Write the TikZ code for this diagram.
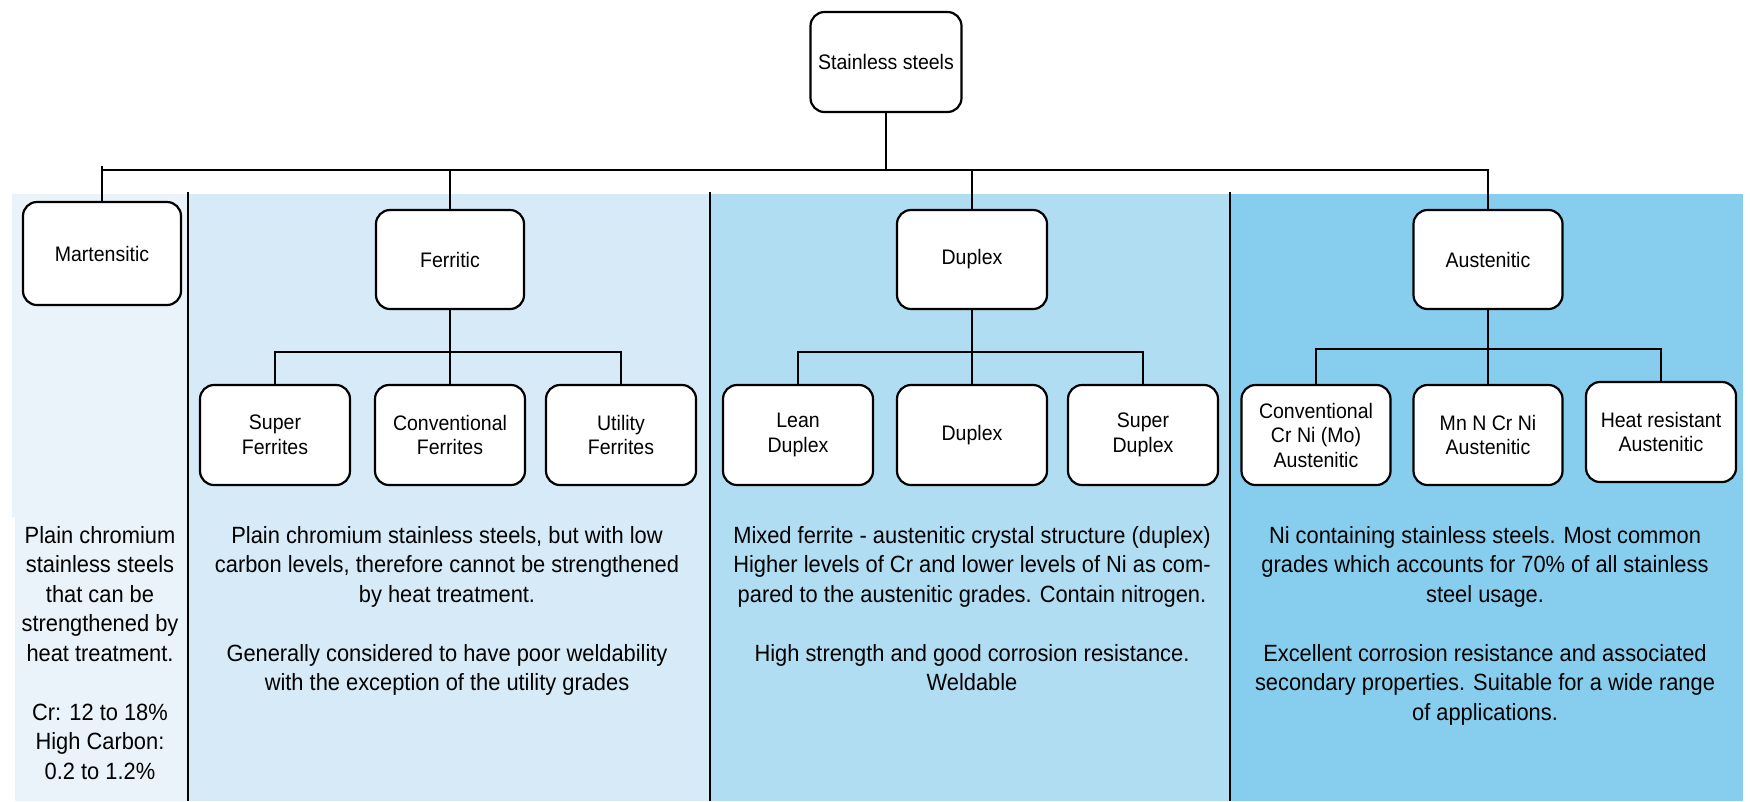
\documentclass[tikz,border=0pt]{standalone}
\usepackage{fontspec}
\setmainfont{Liberation Sans}[FakeStretch=0.93]
\definecolor{pone}{HTML}{EAF3FA}
\definecolor{ptwo}{HTML}{D6EBF7}
\definecolor{pthree}{HTML}{B1DDF3}
\definecolor{pfour}{HTML}{87CEEE}
\begin{document}
\begin{tikzpicture}[x=1pt,y=-1pt,
  box/.style={draw=black,line width=2.2pt,fill=white,rounded corners=14pt,align=center,inner sep=0pt,font=\fontsize{21}{24.5}\selectfont},
  mainbox/.style={box,minimum width=150pt,minimum height=99pt},
  subbox/.style={box,minimum width=150pt,minimum height=100pt},
  wire/.style={line width=2pt,black},
  divider/.style={line width=2pt,black},
  desc/.style={align=center,inner sep=0pt,anchor=north,font=\fontsize{23.5}{29.5}\selectfont}]
\useasboundingbox (0,0) rectangle (1750,801);
% panels
\fill[pone] (12,194) -- (188,194) -- (188,801) -- (15,801) -- (15,517) -- (12,517) -- cycle;
\fill[ptwo] (188,194) rectangle (710,801);
\fill[pthree] (710,194) rectangle (1230,801);
\fill[pfour] (1230,194) rectangle (1743,801);
\draw[divider] (188,192) -- (188,801);
\draw[divider] (710,192) -- (710,801);
\draw[divider] (1230,192) -- (1230,801);
% main boxes
\node[mainbox,minimum width=151pt,minimum height=100pt] (top) at (886,62) {Stainless steels};
\node[mainbox,minimum width=158pt,minimum height=103pt] (mart) at (102,253.5) {Martensitic};
\node[mainbox,minimum width=148pt] (ferr) at (450,259.5) {Ferritic};
\node[mainbox] (dup) at (972,259.5) {Duplex};
\node[mainbox,minimum width=149pt] (aust) at (1488,259.5) {Austenitic};
% sub boxes
\node[subbox] (sf) at (275,435) {Super\\Ferrites};
\node[subbox] (cf) at (450,435) {Conventional\\Ferrites};
\node[subbox] (uf) at (621,435) {Utility\\Ferrites};
\node[subbox] (ld) at (798,435) {Lean\\Duplex};
\node[subbox] (dd) at (972,435) {Duplex};
\node[subbox] (sd) at (1143,435) {Super\\Duplex};
\node[subbox,minimum width=149pt] (ca) at (1316,435) {Conventional\\Cr Ni (Mo)\\Austenitic};
\node[subbox,minimum width=149pt] (mn) at (1488,435) {Mn N Cr Ni\\Austenitic};
\node[subbox] (hr) at (1661,432) {Heat resistant\\Austenitic};
% connectors
\coordinate (bus) at (886,170);
\coordinate (tick) at (102,166);
\draw[wire] (top.south) -- (bus);
\draw[wire] (mart.north) -- (tick);
\draw[wire] (mart.north |- bus) -- (aust.north |- bus) -- (aust.north);
\draw[wire] (ferr.north |- bus) -- (ferr.north);
\draw[wire] (dup.north |- bus) -- (dup.north);
\coordinate (fbus) at (450,352);
\coordinate (dbus) at (972,352);
\coordinate (abus) at (1488,349);
\draw[wire] (ferr.south) -- (cf.north);
\draw[wire] (sf.north) -- (sf.north |- fbus) -- (uf.north |- fbus) -- (uf.north);
\draw[wire] (dup.south) -- (dd.north);
\draw[wire] (ld.north) -- (ld.north |- dbus) -- (sd.north |- dbus) -- (sd.north);
\draw[wire] (aust.south) -- (mn.north);
\draw[wire] (ca.north) -- (ca.north |- abus) -- (hr.north |- abus) -- (hr.north);
% descriptions
\node[desc] (mtxt) at (100,526) {Plain chromium\\stainless steels\\that can be\\strengthened by\\heat treatment.\\[29.5pt]Cr: 12 to 18\%\\High Carbon:\\0.2 to 1.2\%};
\node[desc] (ftxt) at (447,526) {Plain chromium stainless steels, but with low\\carbon levels, therefore cannot be strengthened\\by heat treatment.\\[29.5pt]Generally considered to have poor weldability\\with the exception of the utility grades};
\node[desc] (dtxt) at (972,526) {Mixed ferrite - austenitic crystal structure (duplex)\\Higher levels of Cr and lower levels of Ni as com-\\pared to the austenitic grades. Contain nitrogen.\\[29.5pt]High strength and good corrosion resistance.\\Weldable};
\node[desc] (atxt) at (1485,526) {Ni containing stainless steels. Most common\\grades which accounts for 70\% of all stainless\\steel usage.\\[29.5pt]Excellent corrosion resistance and associated\\secondary properties. Suitable for a wide range\\of applications.};
\end{tikzpicture}
\end{document}
